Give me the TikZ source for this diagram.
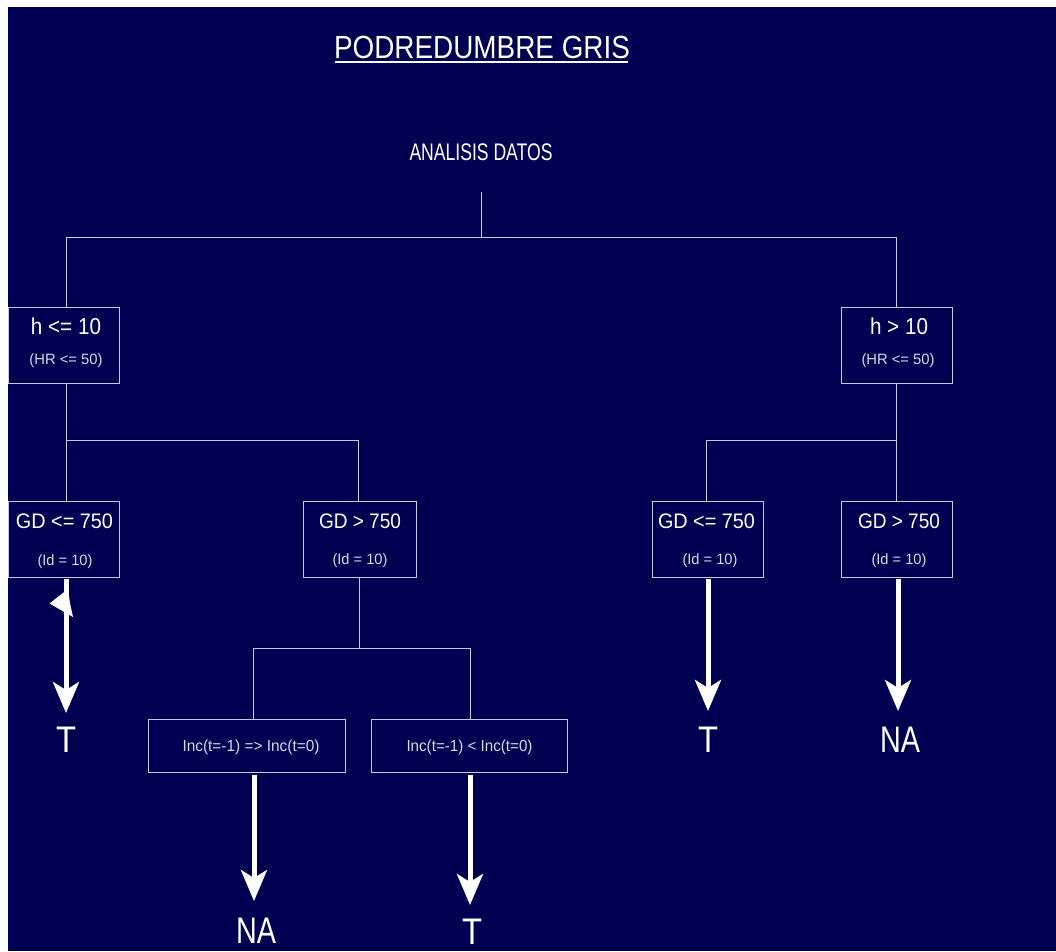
\documentclass[tikz,border=0pt]{standalone}
\usepackage{fontspec}
\setmainfont{Liberation Sans}
\usepackage{graphicx}
\usetikzlibrary{arrows.meta}
\definecolor{bgc}{RGB}{0,0,82}
\definecolor{linec}{RGB}{200,200,222}
\definecolor{subc}{RGB}{215,215,230}
\newcommand\fw[2]{\resizebox{#1}{\height}{#2}}
\begin{document}
\begin{tikzpicture}[x=1pt,y=-1pt,
  box/.style={draw=linec,line width=0.9pt,rectangle,inner sep=0pt,minimum width=111pt,minimum height=76pt},
  ibox/.style={box,minimum height=53pt},
  txt/.style={text=white,inner sep=0pt,anchor=base},
  sub/.style={text=subc,inner sep=0pt,anchor=base},
  conn/.style={draw=linec,line width=0.9pt},
  bigarrow/.style={draw=white,line width=5pt,-{Stealth[length=31pt,width=26pt,inset=8pt]}},
  leaf/.style={text=white,inner sep=0pt,anchor=base,font=\fontsize{37}{37}\selectfont}]
\useasboundingbox (0,0) rectangle (1056,951);
\fill[bgc] (8,7) rectangle (1056,951);

% title
\node[txt,font=\fontsize{32}{32}\selectfont] (title) at (482,58) {\fw{296pt}{PODREDUMBRE GRIS}};
\draw[white,line width=2pt] (335,62) -- (628,62);
\node[txt,font=\fontsize{24}{24}\selectfont] (root) at (481,160) {\fw{143pt}{ANALISIS DATOS}};

% boxes
\node[box] (b1) at (63.5,345.5) {};
\node[box] (b2) at (896.5,345.5) {};
\node[box] (g1) at (63.5,539) {};
\node[box,minimum width=113pt] (g2) at (359.5,539) {};
\node[box] (g3) at (707.5,539) {};
\node[box] (g4) at (896.5,539) {};
\node[ibox,minimum width=197pt] (i1) at (246.5,745.5) {};
\node[ibox,minimum width=196pt] (i2) at (469,745.5) {};

% box texts
\node[txt,font=\fontsize{23}{23}\selectfont] (b1a) at (66,334) {\fw{70pt}{h <= 10}};
\node[sub,font=\fontsize{15}{15}\selectfont] (b1b) at (66,364) {\fw{73pt}{(HR <= 50)}};
\node[txt,font=\fontsize{23}{23}\selectfont] (b2a) at (899,334) {\fw{58pt}{h > 10}};
\node[sub,font=\fontsize{15}{15}\selectfont] (b2b) at (898,364) {\fw{73pt}{(HR <= 50)}};
\node[txt,font=\fontsize{21}{21}\selectfont] (g1a) at (64.5,528) {\fw{97pt}{GD <= 750}};
\node[sub,font=\fontsize{15}{15}\selectfont] (g1b) at (65,565) {\fw{55pt}{(Id = 10)}};
\node[txt,font=\fontsize{21}{21}\selectfont] (g2a) at (360,528) {\fw{82pt}{GD > 750}};
\node[sub,font=\fontsize{15}{15}\selectfont] (g2b) at (360,564) {\fw{55pt}{(Id = 10)}};
\node[txt,font=\fontsize{21}{21}\selectfont] (g3a) at (706.5,528) {\fw{97pt}{GD <= 750}};
\node[sub,font=\fontsize{15}{15}\selectfont] (g3b) at (710,564) {\fw{55pt}{(Id = 10)}};
\node[txt,font=\fontsize{21}{21}\selectfont] (g4a) at (899,528) {\fw{82pt}{GD > 750}};
\node[sub,font=\fontsize{15}{15}\selectfont] (g4b) at (899,564) {\fw{55pt}{(Id = 10)}};
\node[sub,font=\fontsize{16}{16}\selectfont] (i1a) at (251,751) {\fw{137pt}{Inc(t=-1) => Inc(t=0)}};
\node[sub,font=\fontsize{16}{16}\selectfont] (i2a) at (469.5,751) {\fw{126pt}{Inc(t=-1) < Inc(t=0)}};

% connector coordinates
\coordinate (r0) at (481,192);
\coordinate (r1) at (481,237);
\coordinate (rL) at (66,237);
\coordinate (rR) at (896,237);
\coordinate (lA) at (66,440);
\coordinate (lB) at (358,440);
\coordinate (rA) at (706,440);
\coordinate (rB) at (896,440);
\coordinate (mC) at (359,648);
\coordinate (mL) at (253,648);
\coordinate (mR) at (470,648);

\draw[conn] (r0) -- (r1);
\draw[conn] (rL) -- (rR);
\draw[conn] (rL) -- (rL |- b1.north);
\draw[conn] (rR) -- (rR |- b2.north);
\draw[conn] (lA |- b1.south) -- (lA) -- (lB) -- (lB |- g2.north);
\draw[conn] (lA) -- (lA |- g1.north);
\draw[conn] (rB |- b2.south) -- (rB) -- (rA) -- (rA |- g3.north);
\draw[conn] (rB) -- (rB |- g4.north);
\draw[conn] (mC |- g2.south) -- (mC);
\draw[conn] (mL) -- (mR);
\draw[conn] (mL) -- (mL |- i1.north);
\draw[conn] (mR) -- (mR |- i2.north);

% leaves
\coordinate (tA) at (66,713);
\coordinate (tB) at (708,711);
\coordinate (tC) at (898,711);
\coordinate (tD) at (254,901);
\coordinate (tE) at (470,905);
\draw[bigarrow] ([yshift=-2pt]g1.south -| tA) -- (tA);
\draw[bigarrow] ([yshift=-2pt]g3.south -| tB) -- (tB);
\draw[bigarrow] ([yshift=-2pt]g4.south -| tC) -- (tC);
\draw[bigarrow] ([yshift=-3pt]i1.south -| tD) -- (tD);
\draw[bigarrow] ([yshift=-3pt]i2.south -| tE) -- (tE);
\fill[white] (49.5,603.5) -- (68,589) -- (70,603) -- (73,617) -- cycle;

\node[leaf] (lT1) at (66,752) {\fw{20pt}{T}};
\node[leaf] (lT2) at (708,752) {\fw{20pt}{T}};
\node[leaf] (lN1) at (900,752) {\fw{40pt}{NA}};
\node[leaf] (lN2) at (256,943) {\fw{40pt}{NA}};
\node[leaf] (lT3) at (472,944) {\fw{20pt}{T}};
\end{tikzpicture}
\end{document}
